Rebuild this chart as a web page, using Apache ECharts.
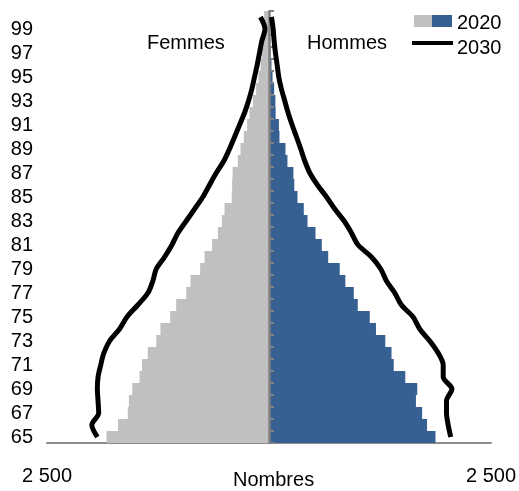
<!DOCTYPE html>
<html>
<head>
<meta charset="utf-8">
<script src="https://cdn.jsdelivr.net/npm/echarts@6/dist/echarts.min.js"></script>
<style>
  html, body { margin: 0; padding: 0; background: #fff; }
  #chart { width: 519px; height: 491px; }
</style>
</head>
<body>
<div id="chart"></div>
<script>
// ages 65..100
const ages = [];
for (let a = 65; a <= 100; a++) ages.push(String(a));

// 2020 (bars)
const femmes2020 = [1830, 1700, 1590, 1578, 1540, 1458, 1430, 1365, 1270, 1222, 1113, 1045, 932, 884, 775, 726, 640, 576, 531, 501, 420, 415, 410, 351, 321, 284, 246, 220, 182, 145, 118, 95, 80, 68, 60, 55];
const hommes2020 = [1875, 1780, 1725, 1655, 1670, 1535, 1405, 1380, 1310, 1205, 1135, 1000, 955, 860, 797, 667, 595, 524, 434, 392, 321, 285, 275, 208, 186, 118, 112, 75, 72, 58, 40, 28, 18, 10, 6, 4];

// 2030 (lines)
const femmes2030 = [1933, 1995, 1918, 1925, 1933, 1925, 1895, 1860, 1795, 1683, 1600, 1477, 1364, 1308, 1270, 1176, 1094, 1026, 932, 838, 745, 670, 595, 509, 445, 388, 332, 276, 231, 193, 163, 133, 107, 81, 45, 96];
const hommes2030 = [2047, 2018, 1999, 1999, 2060, 1962, 1962, 1905, 1811, 1698, 1623, 1492, 1417, 1323, 1259, 1154, 1004, 929, 847, 741, 648, 546, 460, 403, 358, 310, 261, 216, 178, 140, 110, 92, 73, 58, 47, 28];

const xTicks = [-2500, 0, 2500];

const FONT = 'Liberation Sans, Arial, sans-serif';
const GREY = '#c0c0c0';
const BLUE = '#376092';

const myChart = echarts.init(document.getElementById('chart'));

// 36 rows x 12px, so bar edges fall on whole pixels (no seams)
const option = {
  animation: false,
  grid: { left: 47, right: 27, top: 11, bottom: 48 },
  xAxis: {
    type: 'value',
    min: xTicks[0],
    max: xTicks[2],
    interval: 2500,
    axisLine: { show: true, lineStyle: { color: '#8c8c8c', width: 2 } },
    axisTick: { show: false },
    splitLine: { show: false },
    axisLabel: {
      margin: 23,
      fontSize: 20,
      fontFamily: FONT,
      color: '#000',
      formatter: v => (v === 0 ? '' : '2 500')
    }
  },
  yAxis: [
    {
      // centre axis line with ticks
      type: 'category',
      data: ages,
      z: 3,
      axisLine: { show: true, onZero: true, lineStyle: { color: '#808080', width: 2.5 } },
      axisTick: { show: true, inside: true, interval: 0, length: 5, lineStyle: { color: '#7f7f7f', width: 2 } },
      axisLabel: { show: false },
      splitLine: { show: false }
    },
    {
      // age labels on the far left
      type: 'category',
      data: ages,
      position: 'left',
      axisLine: { show: false, onZero: false },
      axisTick: { show: false },
      axisLabel: { interval: 1, margin: 14, fontSize: 20, fontFamily: FONT, color: '#000' },
      splitLine: { show: false }
    }
  ],
  series: [
    {
      name: 'Femmes 2020',
      type: 'bar',
      data: femmes2020.map(v => -v),
      barGap: '-100%',
      barCategoryGap: '0%',
      itemStyle: { color: GREY }
    },
    {
      name: 'Hommes 2020',
      type: 'bar',
      data: hommes2020,
      barGap: '-100%',
      barCategoryGap: '0%',
      itemStyle: { color: BLUE }
    },
    {
      name: 'Femmes 2030',
      type: 'line',
      z: 4,
      data: femmes2030.map(v => -v),
      smooth: 0.3,
      showSymbol: false,
      lineStyle: { color: '#000', width: 5 }
    },
    {
      name: 'Hommes 2030',
      type: 'line',
      z: 4,
      data: hommes2030,
      smooth: 0.3,
      showSymbol: false,
      lineStyle: { color: '#000', width: 5 }
    }
  ],
  graphic: [
    { type: 'text', left: 147, top: 33, style: { text: 'Femmes', fontSize: 20, fontFamily: FONT, fill: '#000' } },
    { type: 'text', left: 307, top: 33, style: { text: 'Hommes', fontSize: 20, fontFamily: FONT, fill: '#000' } },
    { type: 'text', left: 233, top: 470, style: { text: 'Nombres', fontSize: 20, fontFamily: FONT, fill: '#000' } },
    // legend
    { type: 'rect', shape: { x: 414, y: 15, width: 18, height: 12 }, style: { fill: GREY } },
    { type: 'rect', shape: { x: 432, y: 15, width: 20, height: 12 }, style: { fill: BLUE } },
    { type: 'text', left: 457, top: 13, style: { text: '2020', fontSize: 20, fontFamily: FONT, fill: '#000' } },
    { type: 'line', shape: { x1: 412, y1: 43, x2: 453, y2: 43 }, style: { stroke: '#000', lineWidth: 4 } },
    { type: 'text', left: 457, top: 38, style: { text: '2030', fontSize: 20, fontFamily: FONT, fill: '#000' } }
  ]
};

option && myChart.setOption(option);
</script>
</body>
</html>
